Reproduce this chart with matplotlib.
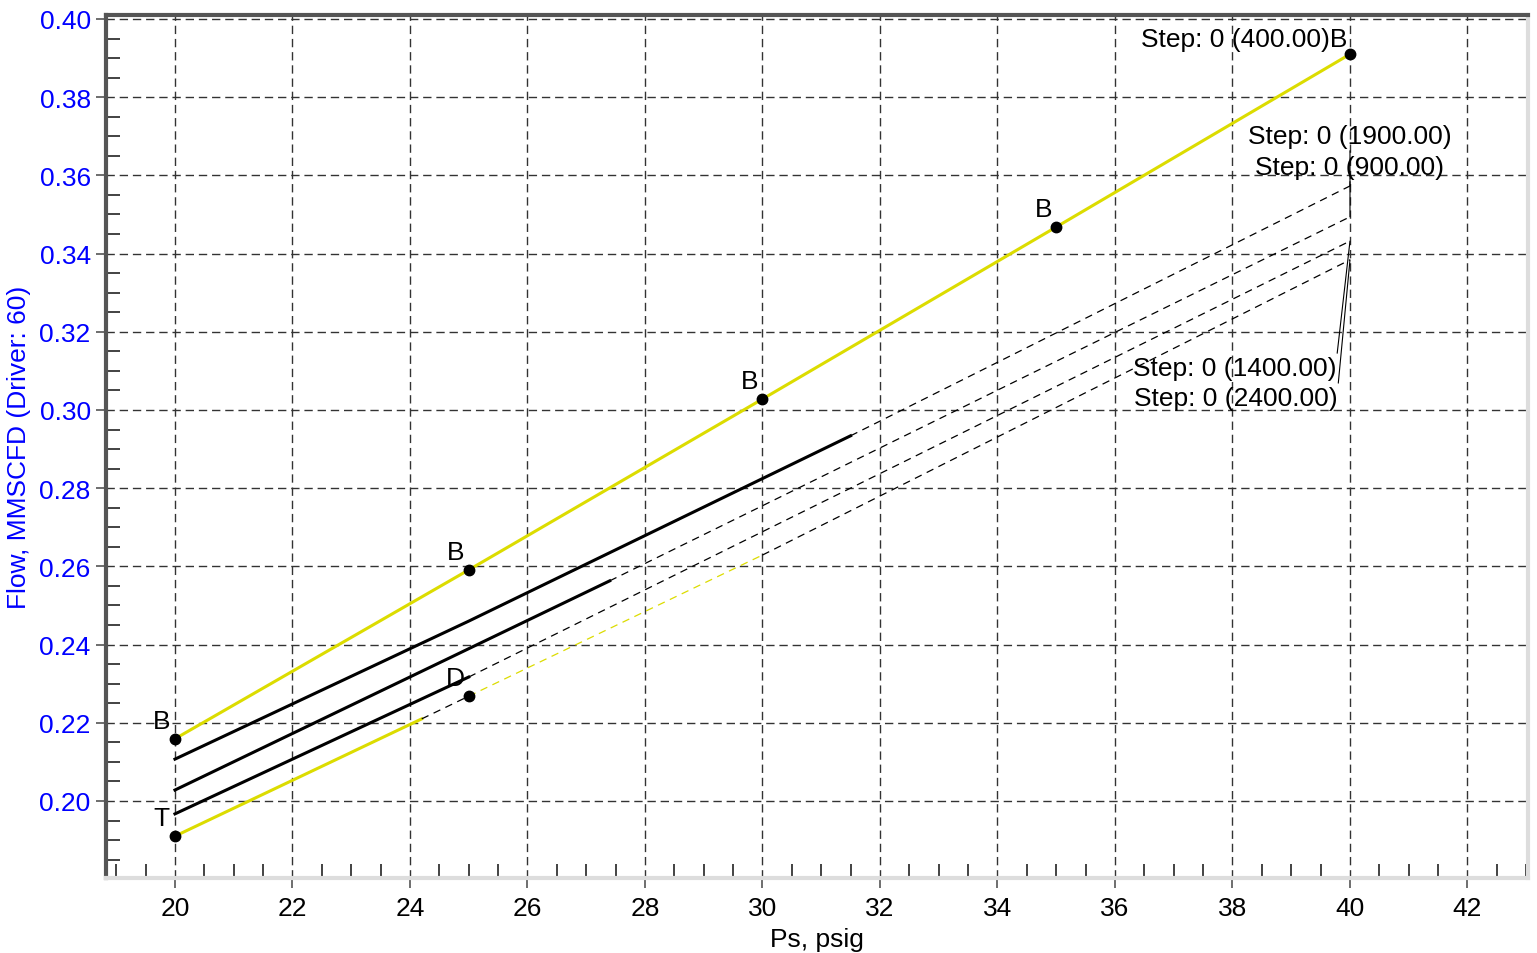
import matplotlib
matplotlib.use("Agg")
import matplotlib.pyplot as plt
from matplotlib.ticker import MultipleLocator, FormatStrFormatter

plt.rcParams['font.family'] = ['Liberation Sans', 'DejaVu Sans']

# ---- data ----
# upper yellow curve (B points)
upper_x = [20, 25, 30, 35, 40]
upper_y = [0.2159, 0.2591, 0.3028, 0.3468, 0.3910]
upper_labels = ["B", "B", "B", "B", None]

# black curve 1 (solid then dashed)
c1_solid_x = [20, 25, 31.5]
c1_solid_y = [0.2107, 0.2460, 0.2934]
c1_dash_x = [31.5, 40]
c1_dash_y = [0.2934, 0.3573]

# black curve 2
c2_solid_x = [20, 27.4]
c2_solid_y = [0.2028, 0.2563]
c2_dash_x = [27.4, 40]
c2_dash_y = [0.2563, 0.3494]

# black curve 3
c3_solid_x = [20, 25]
c3_solid_y = [0.1967, 0.2317]
c3_dash_x = [25, 40]
c3_dash_y = [0.2317, 0.3432]

# lower yellow curve (T, D)
low_solid_x = [20, 24.2]
low_solid_y = [0.1910, 0.2210]
low_bdash1_x = [24.2, 25]
low_bdash1_y = [0.2210, 0.2268]
low_ydash_x = [25, 30]
low_ydash_y = [0.2268, 0.2629]
low_bdash2_x = [30, 40]
low_bdash2_y = [0.2629, 0.3384]
low_pts_x = [20, 25]
low_pts_y = [0.1910, 0.2268]
low_labels = ["T", "D"]

# step annotations
step_texts = ["Step: 0 (1900.00)", "Step: 0 (900.00)", "Step: 0 (1400.00)", "Step: 0 (2400.00)"]
step_x = [40, 40, 40, 40]
step_y = [0.3573, 0.3494, 0.3432, 0.3384]

x_ticks = [20, 22, 24, 26, 28, 30, 32, 34, 36, 38, 40, 42]
y_ticks = [0.20, 0.22, 0.24, 0.26, 0.28, 0.30, 0.32, 0.34, 0.36, 0.38, 0.40]

YEL = '#DCDC00'
DARK = '#555555'
LIGHT = '#DDDDDD'
FS = 19

fig = plt.figure(figsize=(15.37, 9.54), dpi=100)
ax = fig.add_axes([106/1537, 1 - 879/954, (1528-106)/1537, (879-15.5)/954])

ax.set_xlim(18.826, 43.03)
ax.set_ylim(0.1803, 0.40115)

# grid
ax.set_xticks(x_ticks)
ax.set_yticks(y_ticks)
ax.xaxis.set_minor_locator(MultipleLocator(0.5))
ax.yaxis.set_minor_locator(MultipleLocator(0.005))
ax.yaxis.set_major_formatter(FormatStrFormatter('%.2f'))
ax.grid(True, which='major', color='#333333', lw=1.0, linestyle=(0, (6, 3.5)), zorder=0)

# lines
lw_solid = 2.2
lw_dash = 0.9
dash = (0, (6, 4.5))
ax.plot(upper_x, upper_y, color=YEL, lw=lw_solid, zorder=3)
ax.plot(c1_solid_x, c1_solid_y, color='black', lw=lw_solid, zorder=3)
ax.plot(c1_dash_x, c1_dash_y, color='black', lw=lw_dash, linestyle=dash, zorder=3)
ax.plot(c2_solid_x, c2_solid_y, color='black', lw=lw_solid, zorder=3)
ax.plot(c2_dash_x, c2_dash_y, color='black', lw=lw_dash, linestyle=dash, zorder=3)
ax.plot(c3_solid_x, c3_solid_y, color='black', lw=lw_solid, zorder=3)
ax.plot(c3_dash_x, c3_dash_y, color='black', lw=lw_dash, linestyle=dash, zorder=3)
ax.plot(low_solid_x, low_solid_y, color=YEL, lw=lw_solid, zorder=3)
ax.plot(low_bdash1_x, low_bdash1_y, color='black', lw=lw_dash, linestyle=dash, zorder=3)
ax.plot(low_ydash_x, low_ydash_y, color=YEL, lw=lw_dash, linestyle=dash, zorder=3)
ax.plot(low_bdash2_x, low_bdash2_y, color='black', lw=lw_dash, linestyle=dash, zorder=3)

# markers
ax.plot(upper_x, upper_y, 'o', color='black', ms=7.5, zorder=4)
ax.plot(low_pts_x, low_pts_y, 'o', color='black', ms=7.5, zorder=4)

for x, y, t in zip(upper_x, upper_y, upper_labels):
    if t:
        ax.annotate(t, (x, y), xytext=(-9.4, 13), textcoords='offset points',
                    ha='center', va='center', fontsize=FS, zorder=5)
for x, y, t in zip(low_pts_x, low_pts_y, low_labels):
    ax.annotate(t, (x, y), xytext=(-9.4, 13), textcoords='offset points',
                ha='center', va='center', fontsize=FS, zorder=5)

# label at upper endpoint
ax.annotate("Step: 0 (400.00)B", (upper_x[-1], upper_y[-1]), xytext=(-2.2, 11),
            textcoords='offset points', ha='right', va='center', fontsize=FS,
            arrowprops=dict(arrowstyle='-', lw=0.8, color='black', shrinkA=0, shrinkB=0,
                            relpos=(0.91, 0.05)), zorder=5)

offsets = [(0, 36), (0, 36), (-82.8, -91.4), (-82, -99.4)]
relposs = [(0.5, 0.0), (0.5, 0.0), (1.0, 0.95), (1.0, 0.95)]
for t, x, y, off, rp in zip(step_texts, step_x, step_y, offsets, relposs):
    ax.annotate(t, (x, y), xytext=off, textcoords='offset points',
                ha='center', va='center', fontsize=FS,
                arrowprops=dict(arrowstyle='-', lw=0.8, color='black', shrinkA=0, shrinkB=0,
                                relpos=rp), zorder=5)

# spines
for s in ['left', 'top']:
    ax.spines[s].set_color(DARK)
    ax.spines[s].set_linewidth(3.0)
for s in ['bottom', 'right']:
    ax.spines[s].set_color(LIGHT)
    ax.spines[s].set_linewidth(3.0)

ax.tick_params(which='major', direction='out', length=7, width=1.2, color=DARK,
               labelsize=FS, pad=4)
ax.tick_params(which='minor', direction='in', length=10, width=1.2, color='#222222')
ax.tick_params(axis='x', which='major', pad=6)
ax.tick_params(axis='y', which='both', labelcolor='blue')

ax.set_xlabel("Ps, psig", fontsize=FS, labelpad=5)
ax.set_ylabel("Flow, MMSCFD (Driver: 60)", fontsize=FS, color='blue', labelpad=6)

fig.savefig("out.png", dpi=100)
